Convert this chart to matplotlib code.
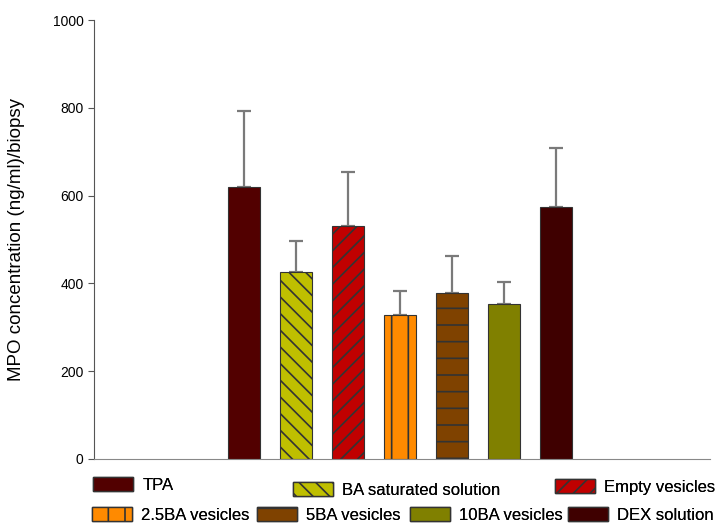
import numpy as np
import matplotlib.pyplot as plt
from matplotlib.patches import Patch

plt.rcParams['font.family'] = ['Liberation Sans', 'DejaVu Sans']
plt.rcParams['hatch.linewidth'] = 1.2

groups = ['TPA', 'BA saturated solution', 'Empty vesicles', '2.5BA vesicles',
          '5BA vesicles', '10BA vesicles', 'DEX solution']
mpo = [620, 426, 531, 328, 378, 353, 574]
err = [172, 71, 123, 55, 84, 50, 134]
colors = ['#520000', '#bfbf00', '#c00000', '#ff8a00', '#7f4200', '#808000', '#3f0000']
hatches = ['', '\\\\', '//', '|', '-', '', '']

W, H = 719, 523
fig = plt.figure(figsize=(W / 100, H / 100), dpi=100)
ax = fig.add_axes([94 / W, 64 / H, 616 / W, 439 / H])

x = np.arange(len(groups))
for i in range(len(groups)):
    ax.bar(x[i], mpo[i], width=0.62, color=colors[i], hatch=hatches[i],
           edgecolor='#333333', linewidth=0.8, zorder=2)
ax.errorbar(x, mpo, yerr=[np.zeros(len(err)), err], fmt='none', ecolor='#7a7a7a',
            elinewidth=1.6, capsize=5, capthick=1.6, zorder=1)

ax.set_xlim(-2.88, 8.96)
ax.set_ylim(0, 1000)
ax.set_yticks(range(0, 1001, 200))
ax.tick_params(axis='y', labelsize=10, length=4, color='#555555')
ax.set_xticks([])
for s in ['top', 'right']:
    ax.spines[s].set_visible(False)
ax.spines['left'].set_color('#555555')
ax.spines['bottom'].set_color('#888888')
ax.set_ylabel('MPO concentration (ng/ml)/biopsy', fontsize=13.5)
ax.yaxis.set_label_coords(-0.112, 0.5)

# legend entries are scattered in the original, so place them one by one (pixel coords)
spots = [(93, 485), (293, 490), (555, 487), (92, 515), (257, 515), (410, 515), (568, 515)]
for i in range(len(groups)):
    h = Patch(facecolor=colors[i], hatch=hatches[i], edgecolor='#333333', label=groups[i])
    px, py = spots[i]
    leg = fig.legend(handles=[h], loc='center left', bbox_to_anchor=(px / W, 1 - py / H),
                     frameon=False, fontsize=12, handlelength=2.4, handleheight=0.85,
                     handletextpad=0.55, borderpad=0, borderaxespad=0)
    fig.add_artist(leg)

fig.savefig('out.png', dpi=100)
